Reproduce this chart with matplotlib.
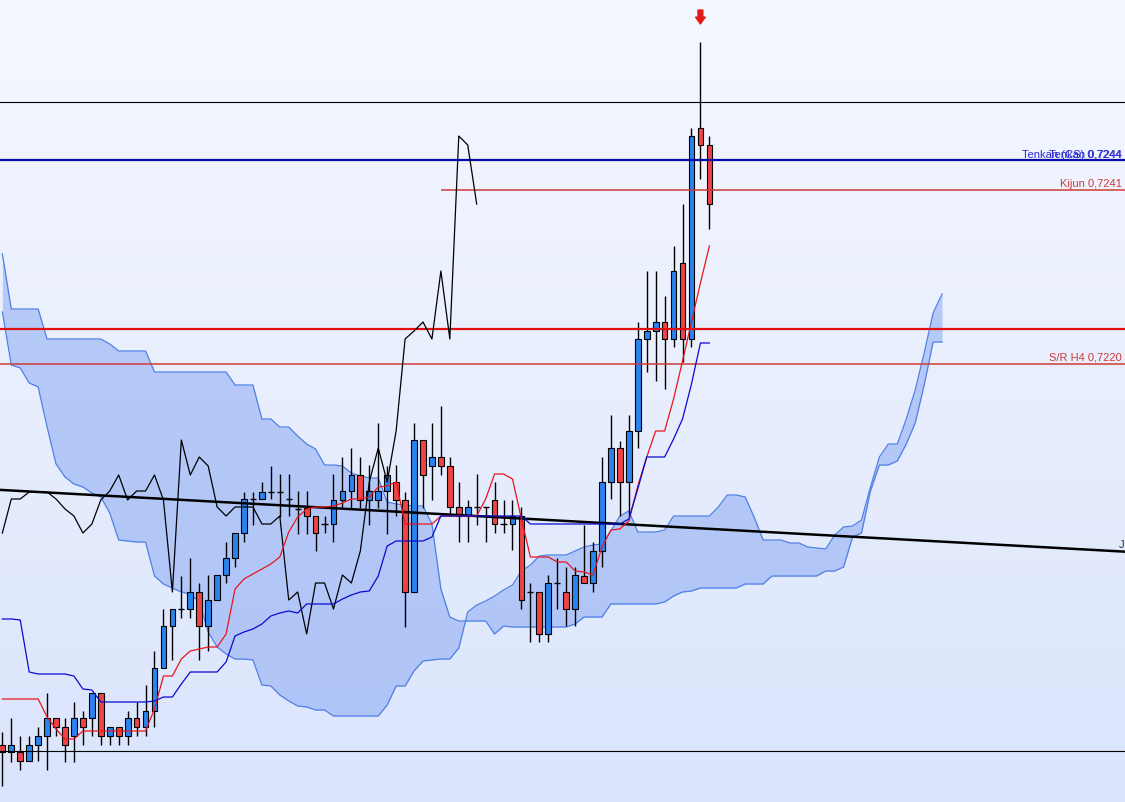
import numpy as np
import matplotlib.pyplot as plt
from matplotlib.colors import LinearSegmentedColormap

# OHLC of the 80 visible candles (price)
open_ = [0.71855, 0.71848, 0.71848, 0.71839, 0.71855, 0.71864, 0.71882, 0.71873, 0.71864, 0.71882,
         0.71882, 0.71907, 0.71864, 0.71873, 0.71864, 0.71882, 0.71873, 0.71889, 0.71932, 0.71974,
         0.71991, 0.71991, 0.72008, 0.71974, 0.72000, 0.72025, 0.72042, 0.72067, 0.72101, 0.72101,
         0.72108, 0.72108, 0.72101, 0.72091, 0.72092, 0.72084, 0.72076, 0.72076, 0.72100, 0.72109,
         0.72125, 0.72100, 0.72100, 0.72109, 0.72118, 0.72100, 0.72008, 0.72160, 0.72134, 0.72143,
         0.72134, 0.72093, 0.72084, 0.72093, 0.72093, 0.72100, 0.72076, 0.72076, 0.72084, 0.72008,
         0.72008, 0.71966, 0.72017, 0.72008, 0.71991, 0.72024, 0.72017, 0.72049, 0.72118, 0.72152,
         0.72118, 0.72169, 0.72261, 0.72269, 0.72278, 0.72261, 0.72337, 0.72261, 0.72472, 0.72455]
high = [0.71868, 0.71882, 0.71864, 0.71864, 0.71873, 0.71907, 0.71882, 0.71882, 0.71898, 0.71889,
        0.71907, 0.71907, 0.71873, 0.71873, 0.71889, 0.71898, 0.71915, 0.71949, 0.71991, 0.71991,
        0.72024, 0.72042, 0.72017, 0.72025, 0.72025, 0.72058, 0.72067, 0.72108, 0.72108, 0.72118,
        0.72134, 0.72126, 0.72126, 0.72109, 0.72109, 0.72084, 0.72084, 0.72126, 0.72143, 0.72152,
        0.72143, 0.72135, 0.72177, 0.72134, 0.72135, 0.72108, 0.72177, 0.72160, 0.72177, 0.72194,
        0.72143, 0.72118, 0.72100, 0.72126, 0.72093, 0.72118, 0.72100, 0.72100, 0.72093, 0.72017,
        0.72008, 0.72025, 0.72042, 0.72033, 0.72033, 0.72075, 0.72058, 0.72143, 0.72185, 0.72159,
        0.72185, 0.72278, 0.72329, 0.72329, 0.72304, 0.72354, 0.72396, 0.72472, 0.72558, 0.72464]
low = [0.71814, 0.71838, 0.71830, 0.71839, 0.71839, 0.71830, 0.71864, 0.71838, 0.71838, 0.71855,
       0.71864, 0.71855, 0.71855, 0.71855, 0.71855, 0.71864, 0.71864, 0.71873, 0.71932, 0.71940,
       0.71982, 0.71982, 0.71940, 0.71949, 0.72000, 0.72017, 0.72033, 0.72058, 0.72075, 0.72101,
       0.72101, 0.72083, 0.72084, 0.72066, 0.72066, 0.72049, 0.72067, 0.72058, 0.72092, 0.72092,
       0.72092, 0.72075, 0.72092, 0.72066, 0.72084, 0.71973, 0.72008, 0.72092, 0.72100, 0.72125,
       0.72084, 0.72058, 0.72058, 0.72075, 0.72058, 0.72067, 0.72067, 0.72050, 0.71991, 0.71958,
       0.71958, 0.71958, 0.71991, 0.71974, 0.71974, 0.72017, 0.72008, 0.72033, 0.72101, 0.72084,
       0.72084, 0.72152, 0.72228, 0.72219, 0.72211, 0.72253, 0.72238, 0.72253, 0.72421, 0.72371]
close = [0.71848, 0.71855, 0.71839, 0.71855, 0.71864, 0.71882, 0.71873, 0.71855, 0.71882, 0.71873,
         0.71907, 0.71864, 0.71873, 0.71864, 0.71882, 0.71873, 0.71889, 0.71932, 0.71974, 0.71991,
         0.71991, 0.72008, 0.71974, 0.72000, 0.72025, 0.72042, 0.72067, 0.72101, 0.72101, 0.72108,
         0.72108, 0.72108, 0.72101, 0.72091, 0.72084, 0.72067, 0.72076, 0.72100, 0.72109, 0.72125,
         0.72100, 0.72109, 0.72109, 0.72125, 0.72100, 0.72008, 0.72160, 0.72125, 0.72143, 0.72134,
         0.72093, 0.72084, 0.72093, 0.72093, 0.72093, 0.72076, 0.72076, 0.72084, 0.72000, 0.72008,
         0.71966, 0.72017, 0.72017, 0.71991, 0.72025, 0.72017, 0.72049, 0.72118, 0.72152, 0.72118,
         0.72169, 0.72261, 0.72269, 0.72278, 0.72261, 0.72329, 0.72261, 0.72464, 0.72455, 0.72396]

# Ichimoku lines
tenkan = [0.71901, 0.71901, 0.71901, 0.71901, 0.71901, 0.71883, 0.71871, 0.71861, 0.71861, 0.71869,
          0.71869, 0.71869, 0.71869, 0.71869, 0.71869, 0.71869, 0.71869, 0.71891, 0.71924, 0.71924,
          0.71941, 0.71949, 0.71951, 0.71953, 0.71953, 0.71966, 0.72011, 0.72021, 0.72026, 0.72031,
          0.72036, 0.72043, 0.72068, 0.72083, 0.72091, 0.72093, 0.72093, 0.72094, 0.72097, 0.72101,
          0.72101, 0.72103, 0.72113, 0.72114, 0.72118, 0.72076, 0.72076, 0.72076, 0.72076, 0.72084,
          0.72084, 0.72084, 0.72084, 0.72084, 0.72101, 0.72126, 0.72126, 0.72121, 0.72081, 0.72043,
          0.72043, 0.72043, 0.72038, 0.72038, 0.72029, 0.72028, 0.72025, 0.72053, 0.72070, 0.72071,
          0.72079, 0.72114, 0.72143, 0.72169, 0.72169, 0.72201, 0.72239, 0.72278, 0.72317, 0.72354]
kijun = [0.71981, 0.71981, 0.71980, 0.71928, 0.71926, 0.71926, 0.71926, 0.71926, 0.71924, 0.71911,
         0.71910, 0.71898, 0.71898, 0.71898, 0.71898, 0.71898, 0.71898, 0.71899, 0.71903, 0.71903,
         0.71916, 0.71928, 0.71928, 0.71928, 0.71928, 0.71938, 0.71964, 0.71968, 0.71971, 0.71976,
         0.71984, 0.71987, 0.71989, 0.71987, 0.71996, 0.71996, 0.71996, 0.71996, 0.72001, 0.72005,
         0.72008, 0.72009, 0.72024, 0.72054, 0.72059, 0.72059, 0.72059, 0.72059, 0.72063, 0.72084,
         0.72084, 0.72084, 0.72084, 0.72084, 0.72084, 0.72084, 0.72084, 0.72084, 0.72084, 0.72076,
         0.72076, 0.72076, 0.72076, 0.72076, 0.72076, 0.72076, 0.72076, 0.72076, 0.72076, 0.72076,
         0.72081, 0.72111, 0.72143, 0.72143, 0.72143, 0.72161, 0.72181, 0.72216, 0.72257, 0.72257]

# cloud spans, 26 bars ahead of the last candle
senkou_a = [0.72288, 0.72235, 0.72232, 0.72217, 0.72213, 0.72173, 0.72136, 0.72123, 0.72116, 0.72113,
            0.72107, 0.72103, 0.72087, 0.72060, 0.72059, 0.72058, 0.72058, 0.72024, 0.72016, 0.72012,
            0.72008, 0.72006, 0.71998, 0.71968, 0.71953, 0.71946, 0.71941, 0.71941, 0.71940, 0.71915,
            0.71914, 0.71905, 0.71899, 0.71894, 0.71893, 0.71890, 0.71890, 0.71884, 0.71884, 0.71884,
            0.71884, 0.71884, 0.71884, 0.71895, 0.71914, 0.71914, 0.71929, 0.71939, 0.71940, 0.71941,
            0.71941, 0.71952, 0.71988, 0.71995, 0.71999, 0.72004, 0.72010, 0.72015, 0.72029, 0.72035,
            0.72044, 0.72045, 0.72045, 0.72045, 0.72049, 0.72053, 0.72055, 0.72056, 0.72069, 0.72084,
            0.72089, 0.72068, 0.72068, 0.72068, 0.72070, 0.72084, 0.72084, 0.72084, 0.72084, 0.72084,
            0.72093, 0.72105, 0.72105, 0.72103, 0.72083, 0.72060, 0.72060, 0.72060, 0.72057, 0.72057,
            0.72053, 0.72052, 0.72051, 0.72065, 0.72073, 0.72074, 0.72080, 0.72113, 0.72143, 0.72156,
            0.72156, 0.72181, 0.72210, 0.72247, 0.72287, 0.72306]
senkou_b = [0.72346, 0.72291, 0.72291, 0.72291, 0.72291, 0.72261, 0.72261, 0.72261, 0.72261, 0.72261,
            0.72261, 0.72261, 0.72256, 0.72249, 0.72249, 0.72249, 0.72249, 0.72228, 0.72228, 0.72228,
            0.72228, 0.72228, 0.72228, 0.72228, 0.72228, 0.72228, 0.72215, 0.72215, 0.72215, 0.72181,
            0.72181, 0.72173, 0.72173, 0.72164, 0.72156, 0.72151, 0.72135, 0.72135, 0.72134, 0.72127,
            0.72124, 0.72122, 0.72122, 0.72098, 0.72096, 0.72095, 0.72094, 0.72094, 0.72076, 0.72011,
            0.71983, 0.71979, 0.71979, 0.71979, 0.71979, 0.71966, 0.71974, 0.71973, 0.71973, 0.71973,
            0.71973, 0.71973, 0.71973, 0.71973, 0.71976, 0.71983, 0.71983, 0.71983, 0.71996, 0.71996,
            0.71996, 0.71996, 0.71996, 0.71996, 0.71998, 0.72004, 0.72008, 0.72009, 0.72012, 0.72012,
            0.72012, 0.72012, 0.72012, 0.72016, 0.72016, 0.72016, 0.72024, 0.72024, 0.72024, 0.72024,
            0.72024, 0.72024, 0.72029, 0.72029, 0.72033, 0.72063, 0.72067, 0.72109, 0.72135, 0.72135,
            0.72139, 0.72156, 0.72177, 0.72215, 0.72258, 0.72258]

CHIKOU_SHIFT = 26

# horizontal levels and their labels
level_top = 0.72498
level_tenkan = 0.72440
level_kijun = 0.72410
level_kijun_start = 49
level_red = 0.72271
level_sr = 0.72236
level_bottom = 0.71849
trend_x = [0, 120]
trend_y = [0.72110, 0.72051]

XMIN, XMAX = -0.263, 125.44
YMIN, YMAX = 0.71798, 0.72601

fig = plt.figure(figsize=(11.25, 8.03), dpi=100)
ax = fig.add_axes([0, 0, 1, 1])
ax.set_xlim(XMIN, XMAX)
ax.set_ylim(YMIN, YMAX)
ax.axis("off")

# background gradient
bg = LinearSegmentedColormap.from_list("bg", ["#f6f8ff", "#dae4fc"])
ax.imshow(np.linspace(0, 1, 256).reshape(-1, 1), cmap=bg, aspect="auto",
          extent=[XMIN, XMAX, YMIN, YMAX], origin="upper", zorder=0)

# cloud
xc = np.arange(len(senkou_a))
ax.fill_between(xc, senkou_a, senkou_b, color="#93b0f4", alpha=0.6, lw=0, zorder=1)
ax.plot(xc, senkou_a, color="#4f7fe6", lw=0.9, zorder=2)
ax.plot(xc, senkou_b, color="#4f7fe6", lw=0.9, zorder=2)

# candles
o = np.array(open_)
c = np.array(close)
xs = np.arange(len(o))
ax.vlines(xs, low, high, color="black", lw=1.0, zorder=3)
up = c > o
dn = c < o
doji = c == o
ax.bar(xs[up], (c - o)[up], bottom=o[up], width=0.64, color="#2a84f0",
       edgecolor="black", linewidth=0.8, zorder=4)
ax.bar(xs[dn], (o - c)[dn], bottom=c[dn], width=0.64, color="#f04444",
       edgecolor="black", linewidth=0.8, zorder=4)
ax.hlines(c[doji], xs[doji] - 0.34, xs[doji] + 0.34, color="black", lw=1.0, zorder=4)

# levels
ax.axhline(level_top, color="black", lw=0.8, zorder=5)
ax.axhline(level_bottom, color="black", lw=0.8, zorder=5)
ax.axhline(level_tenkan, color="#0a0aa8", lw=1.6, zorder=5)
ax.hlines(level_kijun, level_kijun_start, XMAX, color="#d03a3a", lw=1.1, zorder=5)
ax.axhline(level_red, color="#e01010", lw=1.6, zorder=5)
ax.axhline(level_sr, color="#d03a3a", lw=1.1, zorder=5)
ax.axline((trend_x[0], trend_y[0]), (trend_x[1], trend_y[1]), color="black", lw=1.8, zorder=6)

# indicator lines
ax.plot(xs[:-CHIKOU_SHIFT], c[CHIKOU_SHIFT:], color="black", lw=0.9, zorder=7)
ax.plot(xs, tenkan, color="#e8161b", lw=0.9, zorder=7)
ax.plot(xs, kijun, color="#0a0acf", lw=0.9, zorder=7)

# right-hand labels
tr = ax.get_yaxis_transform()
lab = dict(fontsize=8, family="Liberation Sans", ha="right", va="baseline", transform=tr, zorder=8)
ax.text(0.997, level_tenkan + 0.00003, "Tenkan (CS) 0,7244", color="#2a2ad0", **lab)
ax.text(0.997, level_tenkan + 0.00003, "Tenkan 0,7244", color="#2a2ad0", **lab)
ax.text(0.997, level_kijun + 0.00004, "Kijun 0,7241", color="#cc3a3a", **lab)
ax.text(0.997, level_sr + 0.00004, "S/R H4 0,7220", color="#cc3a3a", **lab)
slope = (trend_y[1] - trend_y[0]) / (trend_x[1] - trend_x[0])
ax.text(124.7, trend_y[0] + slope * 124.7 + 0.00004, "J", fontsize=8,
        family="Liberation Sans", color="#333333", va="baseline", zorder=8)

# sell signal arrow above the top candle
top = int(np.argmax(high))
ax.annotate("", xy=(top, high[top]), xytext=(0, 23), textcoords="offset points",
            arrowprops=dict(arrowstyle="simple,head_length=0.7,head_width=1.0,tail_width=0.5",
                            mutation_scale=7, color="#e31a1a", shrinkA=0, shrinkB=13),
            zorder=8)

fig.savefig("out.png", dpi=100)
